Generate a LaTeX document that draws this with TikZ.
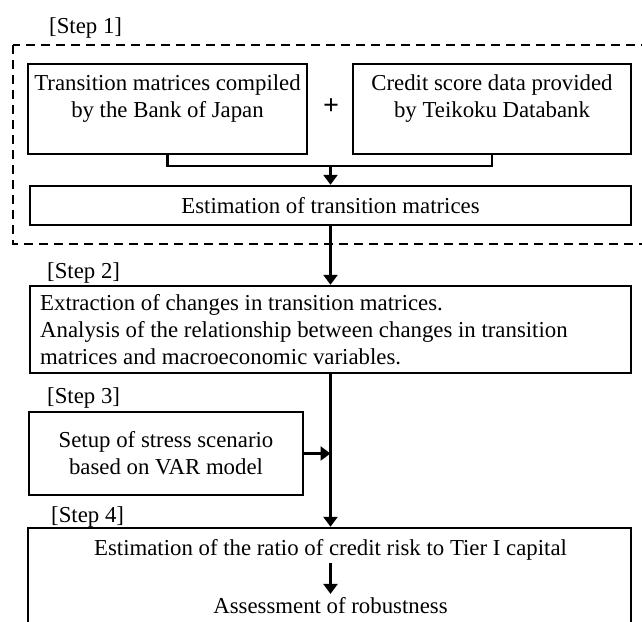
\documentclass[tikz,border=0pt]{standalone}
\usepackage{fontspec}
\setmainfont{Liberation Serif}
\usetikzlibrary{arrows.meta}
\tikzset{
  box/.style={draw, line width=2.4pt, rectangle, inner sep=0pt},
  txt/.style={inner sep=0pt, align=center, font=\fontsize{22.8}{27}\selectfont},
  lbl/.style={inner sep=0pt, anchor=base west, font=\fontsize{22.8}{27}\selectfont},
  conn/.style={line width=2.4pt},
  arr/.style={line width=2.4pt, -{Triangle[width=14pt,length=10pt]}},
  dashbox/.style={draw, line width=2.2pt, dash pattern=on 9pt off 6pt}
}
\begin{document}
\begin{tikzpicture}[x=1pt,y=-1pt]
\useasboundingbox (0,0) rectangle (642,621);
\clip (0,0) rectangle (642,621);
% Step 1 frame
\draw[dashbox] (13,45) rectangle (680,244);
\node[lbl] (s1) at (49,33) {[Step 1]};
\node[box, minimum width=279pt, minimum height=90pt] (A) at (167.5,109) {};
\node[txt] (At) at (167.5,98.1) {Transition matrices compiled\strut\\by the Bank of Japan\strut};
\node[box, minimum width=278pt, minimum height=90pt] (B) at (492,109) {};
\node[txt] (Bt) at (492,98.1) {Credit score data provided\strut\\by Teikoku Databank\strut};
\node[txt, font=\fontsize{28}{28}\selectfont\bfseries] (plus) at (331,107) {+};
\node[box, minimum width=601pt, minimum height=39pt] (C) at (330.5,205.5) {};
\node[txt] (Ct) at (330.5,207.6) {Estimation of transition matrices\strut};
\coordinate (J) at (330.5,166);
\draw[conn] (A.south) |- (J) -| (B.south);
\draw[arr] (J) -- (C.north);
% Step 2
\node[lbl] (s2) at (47,278) {[Step 2]};
\node[box, minimum width=601pt, minimum height=87pt] (D) at (330.5,329.5) {};
\node[txt, align=left, anchor=west] (Dt) at (40,331.6) {Extraction of changes in transition matrices.\strut\\Analysis of the relationship between changes in transition\strut\\matrices and macroeconomic variables.\strut};
\draw[arr] (C.south) -- (D.north);
% Step 3
\node[lbl] (s3) at (47,403) {[Step 3]};
\node[box, minimum width=274pt, minimum height=83pt] (E) at (166,453.5) {};
\node[txt] (Et) at (166,455.1) {Setup of stress scenario\strut\\based on VAR model\strut};
% Step 4
\node[lbl] (s4) at (51,522) {[Step 4]};
\node[box, minimum width=603pt, minimum height=112pt] (F) at (329.5,584) {};
\node[txt] (F1) at (330.5,549.6) {Estimation of the ratio of credit risk to Tier I capital\strut};
\node[txt] (F2) at (330.5,607.6) {Assessment of robustness\strut};
\draw[arr] (D.south) -- (D.south |- F.north);
\draw[arr] (E.east) -- (E.east -| D.south);
\draw[arr] (F1.south) -- (F2.north);
\end{tikzpicture}
\end{document}
